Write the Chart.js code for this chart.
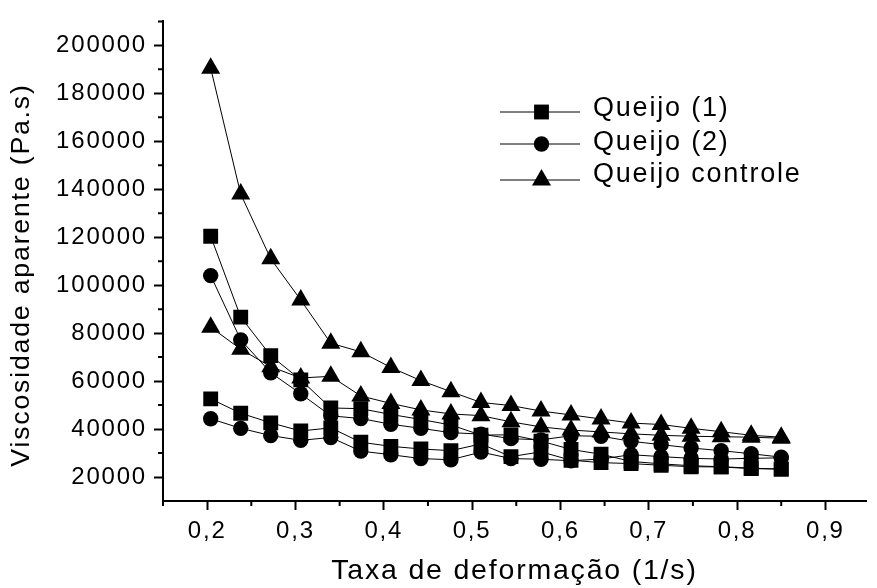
<!DOCTYPE html>
<html>
<head>
<meta charset="utf-8">
<title>Viscosidade aparente</title>
<script src="https://cdn.jsdelivr.net/npm/chart.js@4.4.0/dist/chart.umd.min.js"></script>
<style>
  html, body { margin: 0; padding: 0; background: #fff; }
  #wrap { position: relative; width: 877px; height: 588px; }
</style>
</head>
<body>
<div id="wrap"><canvas id="grafico"></canvas></div>
<script>
// taxa de deformação (1/s)
var taxa = [0.204, 0.238, 0.272, 0.306, 0.340, 0.374, 0.408, 0.442, 0.476, 0.510,
            0.544, 0.578, 0.612, 0.646, 0.680, 0.714, 0.748, 0.782, 0.816, 0.850];

// viscosidade aparente (Pa.s) - curva de ida e de volta de cada amostra
var queijo1Ida   = [120400, 86700, 70600, 60500, 48800, 48500, 46100, 44000, 41700, 37500,
                    37600, 35000, 31500, 29500, 26500, 25500, 24700, 24300, 23700, 23300];
var queijo1Volta = [52600, 46600, 42600, 39200, 40500, 34500, 32800, 31700, 31000, 33800,
                    28500, 30500, 27000, 26000, 25600, 24900, 24300, 24200, 23500, 23300];
var queijo2Ida   = [104000, 77200, 63500, 54700, 45500, 44400, 42000, 40300, 38500, 37900,
                    36000, 35500, 37200, 37000, 34900, 33500, 32100, 31000, 29700, 28300];
var queijo2Volta = [44300, 40300, 37300, 35300, 36500, 30800, 29300, 27700, 27200, 30400,
                    27700, 27400, 26800, 27500, 29300, 28500, 27800, 27500, 27800, 28000];
var controleIda   = [190500, 138000, 111000, 93800, 75800, 72200, 65700, 60200, 55600, 51100,
                     49800, 47500, 45900, 44200, 42500, 41900, 40300, 38900, 37400, 36600];
var controleVolta = [82500, 73300, 66000, 61300, 62000, 53800, 50700, 48000, 46300, 45600,
                     43000, 40900, 39600, 38800, 38000, 37400, 37000, 36800, 36600, 36200];

var legendas = ['Queijo (1)', 'Queijo (2)', 'Queijo controle'];

var xTicks = [0.2, 0.3, 0.4, 0.5, 0.6, 0.7, 0.8, 0.9];
var xMinor = [0.15, 0.25, 0.35, 0.45, 0.55, 0.65, 0.75, 0.85];
var yTicks = [20000, 40000, 60000, 80000, 100000, 120000, 140000, 160000, 180000, 200000];
var yMinor = [30000, 50000, 70000, 90000, 110000, 130000, 150000, 170000, 190000, 210000];

var FONTE = '"Liberation Sans", Arial, sans-serif';
var ESPACO = '1.8px';

// junta ida (crescente) e volta (decrescente) num laço só
function laco(ida, volta) {
  var pts = [];
  for (var i = 0; i < taxa.length; i++) pts.push({ x: taxa[i], y: ida[i] });
  for (var j = taxa.length - 1; j >= 0; j--) pts.push({ x: taxa[j], y: volta[j] });
  return pts;
}

function serie(label, pts, estilo, raio) {
  return {
    label: label,
    data: pts,
    showLine: true,
    borderColor: '#000',
    borderWidth: 1,
    tension: 0,
    pointStyle: estilo,
    pointRadius: raio,
    pointBackgroundColor: '#000',
    pointBorderColor: '#000',
    pointBorderWidth: 0
  };
}

var espacamento = {
  id: 'espacamento',
  beforeUpdate: function(chart) { chart.ctx.letterSpacing = ESPACO; },
  beforeDraw: function(chart) { chart.ctx.letterSpacing = ESPACO; }
};

// ticks menores e legenda no estilo do Origin
var extras = {
  id: 'extras',
  afterDraw: function(chart) {
    var ctx = chart.ctx, xs = chart.scales.x, ys = chart.scales.y, area = chart.chartArea;
    ctx.save();
    ctx.strokeStyle = '#000';
    ctx.lineWidth = 2;
    ctx.beginPath();
    xMinor.forEach(function(v) {
      var px = xs.getPixelForValue(v);
      ctx.moveTo(px, area.bottom);
      ctx.lineTo(px, area.bottom + 5);
    });
    yMinor.forEach(function(v) {
      var py = ys.getPixelForValue(v);
      ctx.moveTo(area.left - 5, py);
      ctx.lineTo(area.left, py);
    });
    ctx.stroke();

    var linhaY = [112, 144, 180], textoY = [109, 143, 175];
    ctx.font = '27px ' + FONTE;
    ctx.letterSpacing = ESPACO;
    ctx.textBaseline = 'middle';
    ctx.textAlign = 'left';
    chart.data.datasets.forEach(function(ds, i) {
      ctx.lineWidth = 1;
      ctx.beginPath();
      ctx.moveTo(500, linhaY[i]);
      ctx.lineTo(580, linhaY[i]);
      ctx.stroke();
      ctx.fillStyle = '#000';
      Chart.helpers.drawPoint(ctx, {
        pointStyle: ds.pointStyle, radius: ds.pointRadius, rotation: 0, borderWidth: 0
      }, 541.5, linhaY[i]);
      ctx.fillText(ds.label, 593, textoY[i]);
    });
    ctx.restore();
  }
};

new Chart(document.getElementById('grafico'), {
  type: 'line',
  data: {
    datasets: [
      serie(legendas[0], laco(queijo1Ida, queijo1Volta), 'rect', 10.5),
      serie(legendas[1], laco(queijo2Ida, queijo2Volta), 'circle', 7.7),
      serie(legendas[2], laco(controleIda, controleVolta), 'triangle', 11)
    ]
  },
  options: {
    responsive: true,
    maintainAspectRatio: false,
    animation: false,
    devicePixelRatio: 1,
    layout: { padding: { top: 12, right: 0, left: 0, bottom: 0 } },
    plugins: { legend: { display: false }, tooltip: { enabled: false } },
    scales: {
      x: {
        type: 'linear',
        min: 0.15,
        max: 0.946,
        afterBuildTicks: function(s) { s.ticks = xTicks.map(function(v) { return { value: v }; }); },
        afterFit: function(s) { s.height = 87; },
        grid: { drawOnChartArea: false, drawTicks: true, tickLength: 9, tickWidth: 2, tickColor: '#000' },
        border: { display: true, color: '#000', width: 2 },
        ticks: {
          color: '#000', padding: 7, maxRotation: 0, autoSkip: false,
          font: { family: FONTE, size: 24 },
          callback: function(v) { return Number(v).toFixed(1).replace('.', ','); }
        },
        title: {
          display: true, text: 'Taxa de deformação (1/s)', color: '#000',
          font: { family: FONTE, size: 28.5 }, padding: { top: 0, bottom: 0 }
        }
      },
      y: {
        type: 'linear',
        min: 10000,
        max: 210000,
        afterBuildTicks: function(s) { s.ticks = yTicks.map(function(v) { return { value: v }; }); },
        afterFit: function(s) { s.width = 163; },
        grid: { drawOnChartArea: false, drawTicks: true, tickLength: 9, tickWidth: 2, tickColor: '#000' },
        border: { display: true, color: '#000', width: 2 },
        ticks: {
          color: '#000', padding: 7, autoSkip: false,
          font: { family: FONTE, size: 24 },
          callback: function(v) { return String(v); }
        },
        title: {
          display: true, text: 'Viscosidade aparente (Pa.s)   ', color: '#000',
          font: { family: FONTE, size: 26.7 }, padding: { top: 6, bottom: 0 }
        }
      }
    }
  },
  plugins: [espacamento, extras]
});
</script>
</body>
</html>
